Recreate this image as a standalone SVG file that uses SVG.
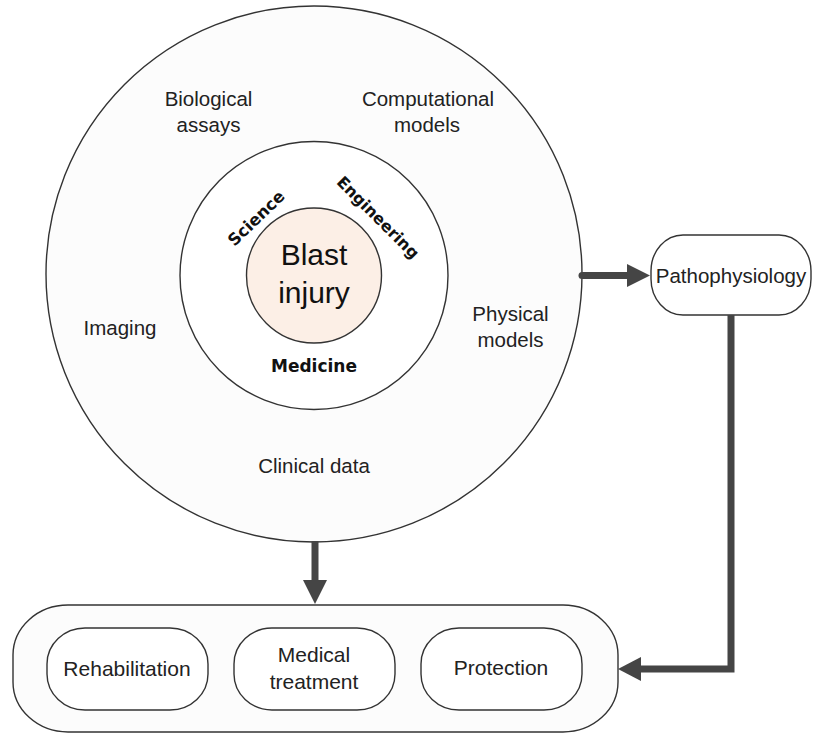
<svg xmlns="http://www.w3.org/2000/svg" width="814" height="734" viewBox="0 0 814 734">
<style>
.ln{stroke:#333;stroke-width:1.4;}
.t{font-family:"Liberation Sans",Arial,sans-serif;font-size:20.5px;fill:#222;text-anchor:middle;}
.tb{font-family:"Liberation Sans",Arial,sans-serif;font-size:21px;fill:#222;text-anchor:middle;}
.bd{font-family:"DejaVu Sans",Verdana,sans-serif;font-weight:bold;fill:#111;text-anchor:middle;}
.big{font-family:"Liberation Sans",Arial,sans-serif;font-size:30px;fill:#111;text-anchor:middle;}
.arr{stroke:#454545;stroke-width:7;fill:none;stroke-linecap:round;stroke-linejoin:miter;}
.head{fill:#454545;}
</style>
<rect width="814" height="734" fill="#ffffff"/>
<g id="outer-circle">
<circle cx="314" cy="274" r="268" fill="#fcfcfc" class="ln"/>
<text class="t" x="208.5" y="106">Biological</text>
<text class="t" x="208.5" y="132">assays</text>
<text class="t" x="428" y="106">Computational</text>
<text class="t" x="427" y="132">models</text>
<text class="t" x="120" y="334.5">Imaging</text>
<text class="t" x="510.5" y="321">Physical</text>
<text class="t" x="510.5" y="347">models</text>
<text class="t" x="314" y="473">Clinical data</text>
</g>
<g id="inner-circle">
<circle cx="314" cy="275.5" r="134" fill="#ffffff" class="ln"/>
<text class="bd" font-size="16.5" transform="translate(256,218) rotate(-44)" y="6">Science</text>
<text class="bd" font-size="16" transform="translate(378,217.5) rotate(45)" y="5.5">Engineering</text>
<text class="bd" font-size="17" x="314" y="372">Medicine</text>
</g>
<g id="blast-injury">
<circle cx="314" cy="275.5" r="67.5" fill="#fcefe6" class="ln"/>
<text class="big" x="314" y="265">Blast</text>
<text class="big" x="314" y="303">injury</text>
</g>
<g id="pathophysiology">
<rect x="651" y="235" width="160" height="80" rx="32" ry="36" fill="#ffffff" class="ln"/>
<text class="t" x="731" y="283">Pathophysiology</text>
</g>
<g id="outcomes">
<rect x="13" y="605" width="605" height="127" rx="55" ry="50" fill="#fcfcfc" class="ln"/>
</g>
<g id="rehabilitation">
<rect x="47" y="628" width="161" height="82" rx="38" ry="36" fill="#ffffff" class="ln"/>
<text class="tb" x="127" y="676">Rehabilitation</text>
</g>
<g id="medical-treatment">
<rect x="234" y="628" width="161" height="82" rx="38" ry="36" fill="#ffffff" class="ln"/>
<text class="tb" x="314" y="662">Medical</text>
<text class="tb" x="314" y="689">treatment</text>
</g>
<g id="protection">
<rect x="421" y="628" width="161" height="82" rx="38" ry="36" fill="#ffffff" class="ln"/>
<text class="tb" x="501" y="675">Protection</text>
</g>
<g id="connectors">
<path class="arr" d="M582,275.5 H629"/>
<polygon class="head" points="627,264 650,275.5 627,287"/>
<path class="arr" d="M315,541 V582" style="stroke-linecap:butt"/>
<polygon class="head" points="303,580 327,580 315,604"/>
<path class="arr" d="M731,315 V669 H640" style="stroke-linecap:butt"/>
<polygon class="head" points="641,657 641,681 618,669"/>
</g>
</svg>
